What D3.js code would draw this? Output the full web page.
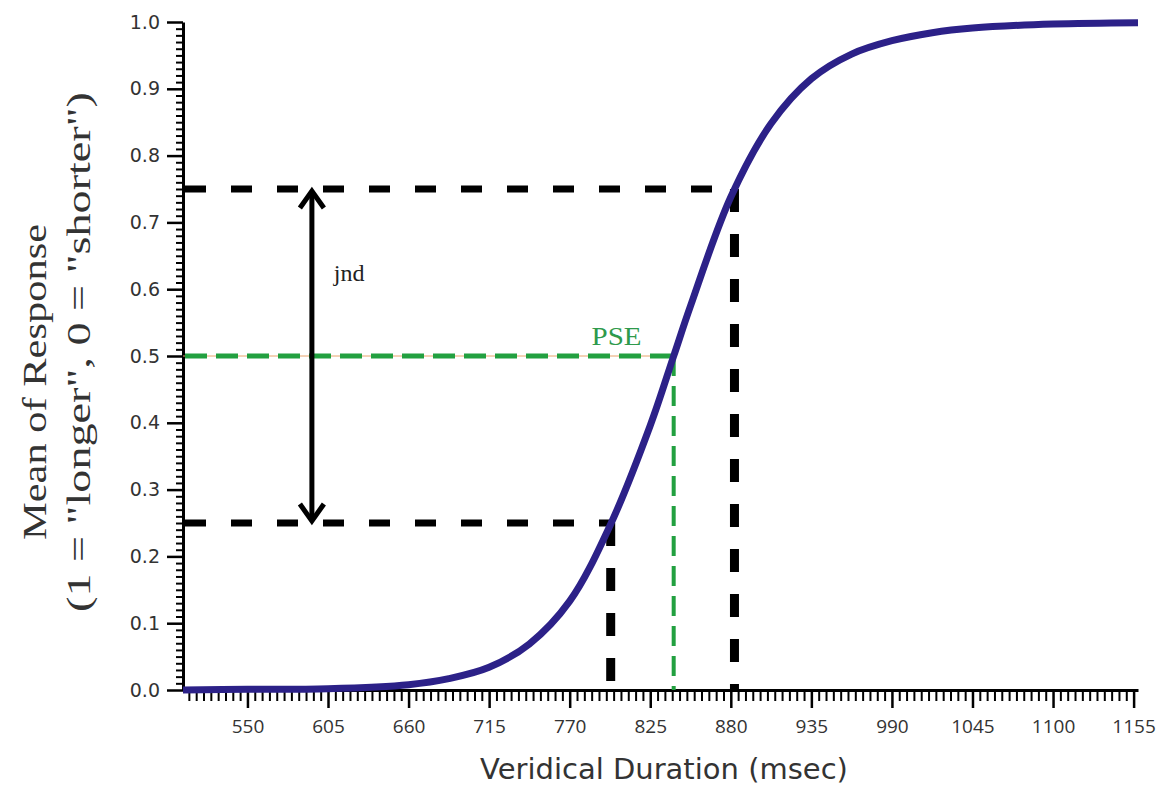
<!DOCTYPE html>
<html>
<head>
<meta charset="utf-8">
<script src="https://cdn.jsdelivr.net/npm/d3@7"></script>
<style>
  body { margin: 0; background: #fff; }
  .tickLabel { fill: #333; }
</style>
</head>
<body>
<svg id="myGraph" width="1157" height="787"></svg>
<script>
// curve (duration in msec, mean response)
var durations = [506, 550, 605, 660, 687.5, 715, 742.5, 770, 797.5, 825, 841, 852.5, 880, 907.5, 935, 962.5, 990, 1017.5, 1045, 1100, 1158];
var responses = [0.000, 0.001, 0.002, 0.008, 0.017, 0.034, 0.069, 0.133, 0.246, 0.396, 0.500, 0.575, 0.738, 0.848, 0.915, 0.952, 0.972, 0.984, 0.991, 0.997, 0.999];

// thresholds: 25%, PSE (50%), 75%
var thresholdLevels = [0.25, 0.5, 0.75];
var thresholdDurations = [798, 841, 882.5];

// tick labels
var xTickValues = [550, 605, 660, 715, 770, 825, 880, 935, 990, 1045, 1100, 1155];
var yTickValues = [0.0, 0.1, 0.2, 0.3, 0.4, 0.5, 0.6, 0.7, 0.8, 0.9, 1.0];

var plotLeft = 183, plotRight = 1138, plotTop = 22, plotBottom = 690;

var svg = d3.select("#myGraph");

var x = d3.scaleLinear().domain([506, 1158]).range([plotLeft, plotRight]);
var y = d3.scaleLinear().domain([0, 1]).range([plotBottom, plotTop]);

// minor ticks
var xMinor = d3.range(510, 1156, 5).filter(function(d){ return xTickValues.indexOf(d) < 0; });
var yMinor = d3.range(0, 101, 1).map(function(d){ return d / 100; })
              .filter(function(d, i){ return i % 10 != 0; });

svg.append("g")
   .attr("transform", "translate(0," + plotBottom + ")")
   .call(d3.axisBottom(x).tickValues(xMinor).tickSize(11).tickSizeOuter(0).tickFormat(""))
   .call(function(g){ g.selectAll("line").attr("stroke-width", 2); g.select(".domain").attr("stroke-width", 3); });

svg.append("g")
   .attr("transform", "translate(0," + plotBottom + ")")
   .call(d3.axisBottom(x).tickValues(xTickValues).tickSize(18).tickSizeOuter(0).tickPadding(12).tickFormat(d3.format("d")))
   .call(function(g){
     g.select(".domain").remove();
     g.selectAll("line").attr("stroke-width", 2.5);
     g.selectAll("text").attr("class", "tickLabel")
      .attr("font-family", "Open Sans, sans-serif").attr("font-size", 19);
   });

svg.append("g")
   .attr("transform", "translate(" + plotLeft + ",0)")
   .call(d3.axisLeft(y).tickValues(yMinor).tickSize(7).tickSizeOuter(0).tickFormat(""))
   .call(function(g){ g.selectAll("line").attr("stroke-width", 2); g.select(".domain").attr("stroke-width", 3); });

svg.append("g")
   .attr("transform", "translate(" + plotLeft + ",0)")
   .call(d3.axisLeft(y).tickValues(yTickValues).tickSize(16).tickSizeOuter(0).tickPadding(7).tickFormat(d3.format(".1f")))
   .call(function(g){
     g.select(".domain").remove();
     g.selectAll("line").attr("stroke-width", 2.5);
     g.selectAll("text").attr("class", "tickLabel")
      .attr("font-family", "DejaVu Sans, sans-serif").attr("font-size", 19);
   });

// dashed guide lines
var guides = thresholdLevels.map(function(lv, i){ return { level: lv, dur: thresholdDurations[i], pse: lv == 0.5 }; });

// thin orange line under the PSE dashes
svg.append("line")
   .attr("x1", x(506)).attr("x2", x(thresholdDurations[1]))
   .attr("y1", y(0.5)).attr("y2", y(0.5))
   .attr("stroke", "#e8a46c").attr("stroke-width", 1);

svg.selectAll("line.hguide").data(guides).enter()
   .append("line").attr("class", "hguide")
   .attr("x1", x(506) + 2).attr("x2", function(d){ return x(d.dur); })
   .attr("y1", function(d){ return y(d.level); })
   .attr("y2", function(d){ return y(d.level); })
   .attr("stroke", function(d){ return d.pse ? "#22a040" : "#000"; })
   .attr("stroke-width", function(d){ return d.pse ? 5 : 7; })
   .attr("stroke-dasharray", function(d){ return d.pse ? "22,9" : "21,25"; });

svg.selectAll("line.vguide").data(guides).enter()
   .append("line").attr("class", "vguide")
   .attr("x1", function(d){ return x(d.dur); })
   .attr("x2", function(d){ return x(d.dur); })
   .attr("y1", function(d){ return y(d.level); })
   .attr("y2", y(0))
   .attr("stroke", function(d){ return d.pse ? "#22a040" : "#000"; })
   .attr("stroke-width", function(d){ return d.pse ? 4 : 9; })
   .attr("stroke-dasharray", function(d){ return d.pse ? "20,10" : "23,22"; });

// psychometric curve
var line = d3.line()
   .x(function(d, i){ return x(durations[i]); })
   .y(function(d){ return y(d); })
   .curve(d3.curveCatmullRom.alpha(0.5));

svg.append("path")
   .datum(responses)
   .attr("d", line)
   .attr("fill", "none")
   .attr("stroke", "#2c2188")
   .attr("stroke-width", 7);

// jnd arrow
var arrowX = x(594);
svg.append("line")
   .attr("x1", arrowX).attr("x2", arrowX)
   .attr("y1", y(0.75) + 2).attr("y2", y(0.25) - 2)
   .attr("stroke", "#000").attr("stroke-width", 5);
svg.append("path")
   .attr("d", "M" + (arrowX - 12) + "," + (y(0.75) + 19) + "L" + arrowX + "," + (y(0.75) + 2) + "L" + (arrowX + 12) + "," + (y(0.75) + 19))
   .attr("fill", "none").attr("stroke", "#000").attr("stroke-width", 5);
svg.append("path")
   .attr("d", "M" + (arrowX - 12) + "," + (y(0.25) - 19) + "L" + arrowX + "," + (y(0.25) - 2) + "L" + (arrowX + 12) + "," + (y(0.25) - 19))
   .attr("fill", "none").attr("stroke", "#000").attr("stroke-width", 5);

svg.append("text")
   .attr("x", x(609)).attr("y", y(0.613))
   .attr("font-family", "Liberation Serif, serif").attr("font-size", 24)
   .attr("fill", "#222")
   .text("jnd");

svg.append("text")
   .attr("x", x(802)).attr("y", y(0.517))
   .attr("text-anchor", "middle")
   .attr("font-family", "Liberation Serif, serif").attr("font-size", 25)
   .attr("fill", "#2e9a4c")
   .attr("textLength", 50).attr("lengthAdjust", "spacingAndGlyphs")
   .text("PSE");

// axis titles
svg.append("text")
   .attr("x", 664).attr("y", 779)
   .attr("text-anchor", "middle")
   .attr("font-family", "DejaVu Sans, sans-serif").attr("font-size", 29)
   .attr("fill", "#333")
   .text("Veridical Duration (msec)");

svg.append("text")
   .attr("transform", "translate(46,382) rotate(-90)")
   .attr("text-anchor", "middle")
   .attr("font-family", "Liberation Serif, serif").attr("font-size", 34)
   .attr("fill", "#333")
   .attr("textLength", 316).attr("lengthAdjust", "spacingAndGlyphs")
   .text("Mean of Response");

svg.append("text")
   .attr("transform", "translate(90,352) rotate(-90)")
   .attr("text-anchor", "middle")
   .attr("font-family", "Liberation Serif, serif").attr("font-size", 34)
   .attr("fill", "#333")
   .attr("textLength", 520).attr("lengthAdjust", "spacingAndGlyphs")
   .text("(1 = \"longer\", 0 = \"shorter\")");
</script>
</body>
</html>
